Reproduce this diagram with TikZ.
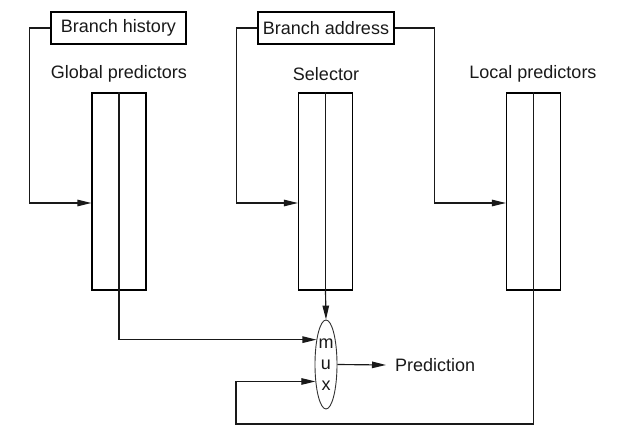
\documentclass[tikz,border=0pt]{standalone}
\usepackage{fontspec}
\setmainfont{Liberation Sans}
\usetikzlibrary{arrows.meta,shapes.geometric}
\begin{document}
\begin{tikzpicture}[x=1pt,y=-1pt,
  every node/.style={font=\fontsize{18}{21}\selectfont, text=black!90},
  line/.style={line width=1.15pt, black!90},
  arr/.style={line, -{Triangle[length=14pt,width=6.5pt]}},
  labelbox/.style={draw, line width=1.15pt, minimum height=32pt, inner sep=0pt},
  table/.style={draw, line width=1.15pt, minimum width=54pt, minimum height=197pt, inner sep=0pt},
  muxshape/.style={ellipse, draw=black!80, line width=0.9pt, minimum width=22pt, minimum height=89pt, inner sep=0pt, align=center}]
\useasboundingbox (0,0) rectangle (630,444);
% boxes
\node[labelbox, minimum width=135pt] (bh) at (118.5,28) {Branch history};
\node[labelbox, minimum width=136pt] (ba) at (326,28) {Branch address};
% labels
\node (gl) at (119,74) {Global predictors};
\node (sl) at (326,74) {Selector};
\node (ll) at (533,74) {Local predictors};
% tables
\node[table] (g) at (119,191.5) {};
\node[table] (s) at (325.5,191.5) {};
\node[table] (l) at (533.5,191.5) {};
\draw[line] (g.north) -- (g.south);
\draw[line] (s.north) -- (s.south);
\draw[line] (l.north) -- (l.south);
% mux
\node[muxshape] (mux) at (326,364.5) {m\\u\\x};
\node[anchor=west, inner sep=0pt] (pred) at (395,365) {Prediction};
% connectors
\coordinate (yin) at (0,203);
\coordinate (ret) at (236,424);
\draw[arr] (bh.west) -- ++(-21,0) |- (g.west |- yin);
\draw[arr] (ba.west) -- ++(-21,0) |- (s.west |- yin);
\draw[arr] (ba.east) -- ++(40,0) |- (l.west |- yin);
\draw[arr] (g.south) |- (mux.111.6);
\draw[arr] (s.south) -- (mux.north);
\draw[arr] (mux.east) -- ([xshift=-9pt]pred.west);
\draw[arr] (l.south) |- (ret) |- (mux.238.3);
\end{tikzpicture}
\end{document}
